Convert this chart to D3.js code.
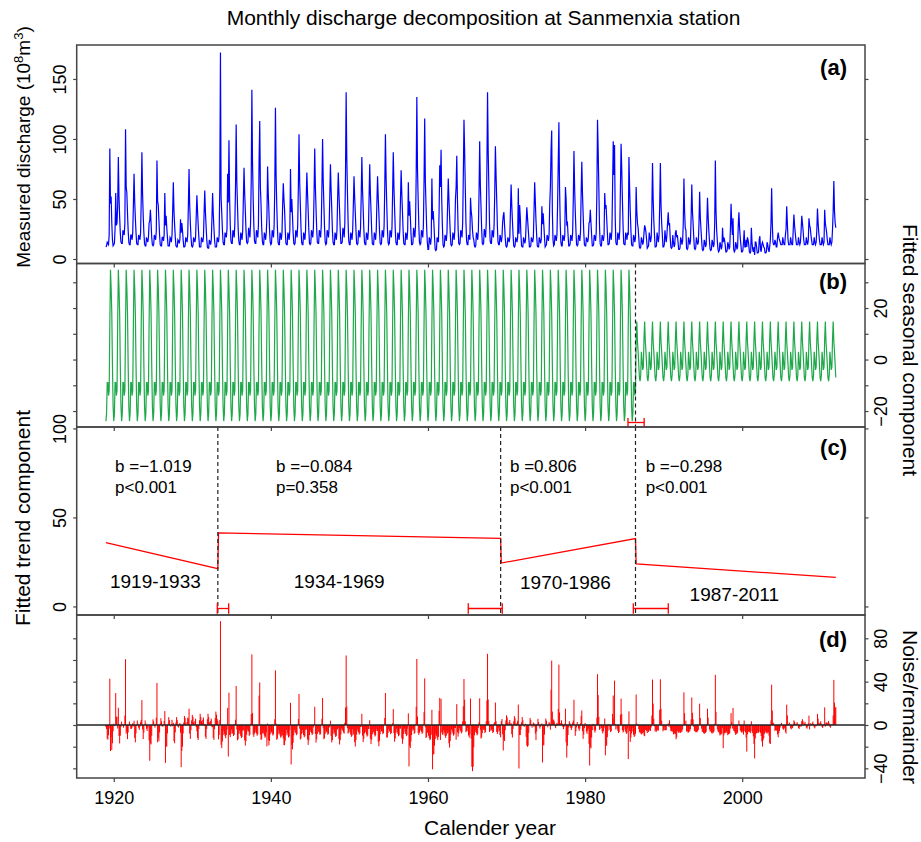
<!DOCTYPE html>
<html>
<head>
<meta charset="utf-8">
<script src="https://cdn.jsdelivr.net/npm/d3@7"></script>
<style>
  body { margin: 0; background: #fff; }
  svg { display: block; font-family: "Liberation Sans", Arial, Helvetica, sans-serif; }
</style>
</head>
<body>
<script>
// monthly measured discharge (10^8 m3), one row per year from 1919, Jan..Dec
var startYear = 1919;
var discharge = [
  [10,11,14,13,12,20,92,46,52,30,16,11],
  [12,13,25,55,28,30,45,85,52,35,22,14],
  [13,13,24,22,20,30,108,60,55,38,24,14],
  [12,12,20,20,16,22,45,71,48,34,22,13],
  [12,12,20,18,16,22,50,89,55,36,22,13],
  [11,11,18,16,14,18,30,32,41,30,18,12],
  [11,12,20,18,16,24,82,48,45,32,20,12],
  [11,11,18,18,15,20,55,28,36,26,18,11],
  [11,11,18,17,14,20,40,64,40,28,18,11],
  [10,10,16,15,13,16,33,22,30,24,16,10],
  [10,11,18,16,14,20,45,75,45,30,18,11],
  [10,11,18,16,14,18,36,53,40,28,18,10],
  [10,10,18,16,14,18,38,57,40,28,17,10],
  [9,9,16,14,12,16,34,55,38,26,16,10],
  [10,10,18,16,14,20,60,172,51,38,24,14],
  [12,12,22,20,18,25,71,47,99,50,28,15],
  [13,13,24,22,18,30,60,112,65,45,26,15],
  [12,12,22,20,16,24,50,76,55,40,24,14],
  [13,14,26,22,18,30,65,141,80,50,28,15],
  [13,13,24,22,18,28,82,115,60,45,26,15],
  [12,12,22,20,16,22,35,77,55,40,24,14],
  [12,13,24,22,18,28,60,126,70,45,26,14],
  [12,12,22,20,16,22,45,63,50,40,24,13],
  [12,12,22,20,16,24,75,39,50,36,22,13],
  [12,13,24,22,18,28,60,104,65,45,26,14],
  [12,12,22,20,16,24,50,72,55,40,24,13],
  [12,13,24,22,18,26,55,92,60,42,25,14],
  [13,13,24,22,18,28,60,100,65,45,26,14],
  [12,13,24,22,18,26,52,79,58,42,24,14],
  [12,12,22,20,16,24,50,72,55,40,24,13],
  [13,14,26,24,18,30,70,139,85,55,30,15],
  [12,12,22,20,16,24,45,69,52,38,24,13],
  [12,13,24,22,18,26,52,85,58,42,25,14],
  [12,12,22,20,16,24,50,79,55,40,24,13],
  [12,12,22,20,16,24,48,69,52,38,23,13],
  [12,13,24,22,18,28,60,104,68,46,26,14],
  [12,13,24,22,18,26,55,89,60,42,25,14],
  [12,12,22,20,16,24,50,74,55,40,24,13],
  [12,12,22,20,16,24,64,36,48,36,22,12],
  [12,13,26,22,18,28,70,135,75,50,28,14],
  [12,13,24,22,18,28,65,117,65,45,26,14],
  [8,8,18,16,12,18,67,33,40,30,18,8],
  [7,8,18,16,14,40,78,60,91,50,28,12],
  [10,11,20,18,15,22,45,67,50,36,22,12],
  [11,12,22,20,16,24,50,60,86,50,26,13],
  [12,13,24,22,18,30,70,116,90,60,30,15],
  [12,12,20,18,16,51,40,35,24,18,16,11],
  [10,11,22,20,16,24,55,98,62,44,25,13],
  [12,13,25,22,18,30,75,139,90,60,30,15],
  [13,13,24,22,18,28,55,94,70,50,28,14],
  [12,12,20,18,14,18,30,36,39,28,18,11],
  [10,11,18,16,14,18,40,62,45,32,20,11],
  [10,11,18,16,14,18,59,21,45,35,20,11],
  [10,10,18,16,13,16,30,43,35,26,18,10],
  [10,11,18,16,14,18,40,64,48,32,20,11],
  [10,10,18,16,13,16,44,29,38,28,18,10],
  [11,12,20,18,15,20,45,60,90,107,40,16],
  [11,12,20,18,15,20,45,80,114,60,30,14],
  [11,11,20,18,15,20,60,50,29,30,20,11],
  [11,12,20,18,15,22,50,90,60,40,24,12],
  [11,12,20,18,15,22,55,81,55,38,22,12],
  [11,11,18,16,14,18,30,31,41,30,20,11],
  [11,12,20,18,15,22,55,116,90,60,28,13],
  [11,11,20,18,15,20,55,42,45,34,22,12],
  [12,13,22,20,16,24,60,98,70,95,35,14],
  [12,12,22,20,16,24,60,96,75,50,28,13],
  [12,12,22,20,16,22,20,85,60,40,24,12],
  [11,11,20,18,14,18,60,40,30,26,18,10],
  [9,10,18,16,12,14,22,28,26,22,16,9],
  [10,11,22,18,14,18,40,80,50,32,20,10],
  [10,11,22,18,14,20,45,80,45,30,20,10],
  [10,12,24,18,14,20,30,39,28,30,18,10],
  [9,10,20,14,10,12,22,24,18,20,14,8],
  [8,9,18,16,12,15,30,67,40,26,24,9],
  [8,9,18,16,12,15,35,62,40,30,18,9],
  [8,9,18,15,12,14,30,56,35,25,16,8],
  [7,8,16,14,10,12,30,51,35,24,15,8],
  [7,8,16,14,10,12,30,82,40,24,15,8],
  [6,7,14,12,8,10,26,14,18,16,12,6],
  [6,7,14,12,8,10,25,46,30,20,34,8],
  [6,7,14,12,8,10,28,39,26,18,12,6],
  [6,7,14,24,10,10,16,10,18,16,12,6],
  [5,6,26,14,8,6,10,3.4,14,14,10,5],
  [5,6,16,19,8,6,12,14,12,10,9,5],
  [5,6,14,12,8,6,10,16,30,59,30,14],
  [12,12,16,14,10,10,18,22,18,16,14,12],
  [12,12,18,14,12,12,20,25,44,30,16,12],
  [12,12,18,14,12,12,25,37,28,22,16,12],
  [12,12,18,14,12,14,24,36,30,24,16,12],
  [12,12,18,14,12,16,34,28,26,20,16,12],
  [12,12,18,14,12,14,24,42,30,22,16,12],
  [12,12,18,14,12,14,41,30,26,22,16,12],
  [12,12,18,14,12,14,25,40,65,40,30,26]
];

// fitted seasonal component, Jan..Dec, before and after the 1986 break
var seasonalEarly = [-23.9,-21,-9,-9,-14,-12,14,34.9,28,18,-2,-18];
var seasonalLate = [-8.4,-6,3,0,-4,-3,8,14.8,7,3,-2,-7];
var seasonBreak = 1986.417;
var seasonCI = [1985.46, 1987.52];

// fitted trend segments
var trendStart = [1919, 1933.333, 1969.333, 1986.5];
var trendEnd = [1933.25, 1969.25, 1986.417, 2011.917];
var trendStartValue = [35.8, 41.3, 24.4, 23.9];
var trendSlope = [-1.019, -0.084, 0.806, -0.298];
var trendCI = [[1933.18, 1934.63], [1965.13, 1969.46], [1986.14, 1990.59]];
var slopeText = ["b =\u22121.019", "b =\u22120.084", "b =0.806", "b =\u22120.298"];
var pText = ["p<0.001", "p=0.358", "p<0.001", "p<0.001"];
var periodText = ["1919-1933", "1934-1969", "1970-1986", "1987-2011"];

// axis limits and ticks
var yLimA = [-3.75, 178.3];
var yLimB = [-26.2, 37.3];
var yLimC = [-4.8, 100.8];
var yLimD = [-48.9, 101.5];
var xTicks = [1920, 1940, 1960, 1980, 2000];
var ticksA = [0, 50, 100, 150];
var ticksB = [-20, -10, 0, 10, 20, 30];
var labelsB = [-20, 0, 20];
var ticksC = [0, 50, 100];
var ticksD = [-40, -20, 0, 20, 40, 60, 80];
var labelsD = [-40, 0, 40, 80];

var w = 921;
var h = 842;
var plotLeft = 76.7;
var plotRight = 865;
var panelTop = { a: 45, b: 263.5, c: 427, d: 615 };
var panelBottom = { a: 263.5, b: 427, c: 615, d: 778 };

function trendAt(t) {
  for (var k = 0; k < trendStart.length; k++) {
    if (t <= trendEnd[k] + 1e-6) {
      return trendStartValue[k] + trendSlope[k] * (t - trendStart[k]);
    }
  }
}

var points = [];
discharge.forEach(function(row, i) {
  row.forEach(function(v, m) {
    var t = startYear + i + m / 12;
    var s = t <= seasonBreak + 1e-6 ? seasonalEarly[m] : seasonalLate[m];
    var tr = trendAt(t);
    points.push({ t: t, v: v, s: s, tr: tr, e: v - s - tr });
  });
});

var tFirst = points[0].t;
var tLast = points[points.length - 1].t;
var pad = 0.04 * (tLast - tFirst);

var x = d3.scaleLinear().domain([tFirst - pad, tLast + pad]).range([plotLeft, plotRight]);
var yA = d3.scaleLinear().domain(yLimA).range([panelBottom.a, panelTop.a]);
var yB = d3.scaleLinear().domain(yLimB).range([panelBottom.b, panelTop.b]);
var yC = d3.scaleLinear().domain(yLimC).range([panelBottom.c, panelTop.c]);
var yD = d3.scaleLinear().domain(yLimD).range([panelBottom.d, panelTop.d]);

var svg = d3.select("body")
            .append("svg")
            .attr("width", w)
            .attr("height", h);

function drawFrame(p) {
  svg.append("rect")
     .attr("x", plotLeft)
     .attr("y", panelTop[p])
     .attr("width", plotRight - plotLeft)
     .attr("height", panelBottom[p] - panelTop[p])
     .attr("fill", "none")
     .attr("stroke", "#444")
     .attr("stroke-width", 1.5);
}

function drawXTicks(p, withLabels) {
  var ax = d3.axisBottom(x).tickValues(xTicks).tickSize(4).tickPadding(9)
             .tickFormat(withLabels ? d3.format("d") : "");
  var g = svg.append("g")
     .attr("transform", "translate(0," + panelBottom[p] + ")")
     .call(ax);
  g.select(".domain").remove();
  g.selectAll("line").attr("stroke", "#444").attr("stroke-width", 1.2);
  g.selectAll("text").style("font-size", "18px").attr("fill", "#000")
   .style("font-family", "Liberation Sans, Arial, sans-serif");
}

function drawYTicks(scale, side, ticks, labels, shift) {
  var ax = (side === "left" ? d3.axisLeft(scale) : d3.axisRight(scale))
      .tickValues(ticks).tickSize(3.5)
      .tickFormat(function(d) { return labels.indexOf(d) >= 0 ? d3.format("d")(d).replace("-", "\u2212") : ""; });
  var g = svg.append("g")
     .attr("transform", "translate(" + (side === "left" ? plotLeft : plotRight) + ",0)")
     .call(ax);
  g.select(".domain").remove();
  g.selectAll("line").attr("stroke", "#444").attr("stroke-width", 1.2);
  g.selectAll("text")
   .attr("x", null)
   .attr("dy", "0.35em")
   .attr("text-anchor", "middle")
   .attr("transform", "translate(" + shift + ",0) rotate(-90)")
   .attr("fill", "#000")
   .style("font-size", "18px")
   .style("font-family", "Liberation Sans, Arial, sans-serif");
}

function drawDashed(t, p) {
  svg.append("line")
     .attr("x1", x(t)).attr("x2", x(t))
     .attr("y1", panelTop[p]).attr("y2", panelBottom[p])
     .attr("stroke", "#222")
     .attr("stroke-width", 1.2)
     .attr("stroke-dasharray", "4,3");
}

function drawCI(range, yPos, cap) {
  var g = svg.append("g").attr("stroke", "#ff0000").attr("stroke-width", 1.3);
  g.append("line").attr("x1", x(range[0])).attr("x2", x(range[1])).attr("y1", yPos).attr("y2", yPos);
  range.forEach(function(t) {
    g.append("line").attr("x1", x(t)).attr("x2", x(t)).attr("y1", yPos - cap).attr("y2", yPos + cap);
  });
}

function panelLabel(txt, cy) {
  svg.append("text")
     .attr("x", 847).attr("y", cy)
     .attr("text-anchor", "end")
     .attr("dy", "0.35em")
     .style("font-size", "22px")
     .style("font-weight", "bold")
     .text(txt);
}

// (a) measured discharge
svg.append("path")
   .datum(points)
   .attr("fill", "none")
   .attr("stroke", "#0000ff")
   .attr("stroke-width", 1.2)
   .attr("d", d3.line().x(function(d) { return x(d.t); }).y(function(d) { return yA(d.v); }));

// (b) seasonal
svg.append("path")
   .datum(points)
   .attr("fill", "none")
   .attr("stroke", "#1ea84a")
   .attr("stroke-width", 1.2)
   .attr("d", d3.line().x(function(d) { return x(d.t); }).y(function(d) { return yB(d.s); }));
drawDashed(seasonBreak, "b");
drawCI(seasonCI, panelBottom.b - 4.5, 4.5);

// (c) trend
var trendPts = [];
trendStart.forEach(function(t0, k) {
  trendPts.push({ t: t0, v: trendStartValue[k] });
  trendPts.push({ t: trendEnd[k], v: trendStartValue[k] + trendSlope[k] * (trendEnd[k] - t0) });
});
svg.append("path")
   .datum(trendPts)
   .attr("fill", "none")
   .attr("stroke", "#ff0000")
   .attr("stroke-width", 1.3)
   .attr("d", d3.line().x(function(d) { return x(d.t); }).y(function(d) { return yC(d.v); }));
trendEnd.slice(0, 3).forEach(function(t) { drawDashed(t, "c"); });
trendCI.forEach(function(r) { drawCI(r, panelBottom.c - 6.5, 5.3); });

var statX = [1920.17, 1940.65, 1970.44, 1987.71];
var periodX = [1925.3, 1948.7, 1977.5, 1999.0];
var periodY = [13.9, 13.9, 13.4, 6.9];
slopeText.forEach(function(s, k) {
  svg.append("text").attr("x", x(statX[k])).attr("y", yC(78.9)).attr("dy", "0.35em")
     .style("font-size", "17px").text(s);
  svg.append("text").attr("x", x(statX[k])).attr("y", yC(67)).attr("dy", "0.35em")
     .style("font-size", "17px").text(pText[k]);
  svg.append("text").attr("x", x(periodX[k])).attr("y", yC(periodY[k])).attr("dy", "0.35em")
     .attr("text-anchor", "middle")
     .style("font-size", "19px").text(periodText[k]);
});

// (d) remainder
svg.append("g")
   .selectAll(".noise")
   .data(points)
   .enter()
   .append("line")
   .attr("class", "noise")
   .attr("x1", function(d) { return x(d.t); })
   .attr("x2", function(d) { return x(d.t); })
   .attr("y1", yD(0))
   .attr("y2", function(d) { return yD(d.e); })
   .attr("stroke", "#ff0000")
   .attr("stroke-width", 1);
svg.append("line")
   .attr("x1", plotLeft).attr("x2", plotRight)
   .attr("y1", yD(0)).attr("y2", yD(0))
   .attr("stroke", "#222").attr("stroke-width", 1.3);

["a", "b", "c", "d"].forEach(drawFrame);
drawXTicks("a", false);
drawXTicks("b", false);
drawXTicks("c", false);
drawXTicks("d", true);

drawYTicks(yA, "left", ticksA, ticksA, -16.7);
drawYTicks(yA, "right", ticksA, [], 15.5);
drawYTicks(yB, "left", ticksB, [], -16.7);
drawYTicks(yB, "right", ticksB, labelsB, 15.5);
drawYTicks(yC, "left", ticksC, ticksC, -16.7);
drawYTicks(yC, "right", ticksC, [], 15.5);
drawYTicks(yD, "left", ticksD, [], -16.7);
drawYTicks(yD, "right", ticksD, labelsD, 15.5);

panelLabel("(a)", 67);
panelLabel("(b)", 281);
panelLabel("(c)", 447);
panelLabel("(d)", 639);

// titles
svg.append("text")
   .attr("x", 483.5).attr("y", 18).attr("dy", "0.35em")
   .attr("text-anchor", "middle")
   .style("font-size", "21px")
   .text("Monthly discharge decomposition at Sanmenxia station");

var yTitle = svg.append("text")
   .attr("transform", "translate(23,147) rotate(-90)")
   .attr("text-anchor", "middle")
   .attr("dy", "0.35em")
   .style("font-size", "19px");
yTitle.append("tspan").text("Measured discharge (10");
yTitle.append("tspan").attr("dy", -7).style("font-size", "13px").text("8");
yTitle.append("tspan").attr("dy", 7).text("m");
yTitle.append("tspan").attr("dy", -7).style("font-size", "13px").text("3");
yTitle.append("tspan").attr("dy", 7).text(")");

svg.append("text")
   .attr("transform", "translate(23,518) rotate(-90)")
   .attr("text-anchor", "middle").attr("dy", "0.35em")
   .style("font-size", "21px")
   .text("Fitted trend component");

svg.append("text")
   .attr("transform", "translate(910,350) rotate(90)")
   .attr("text-anchor", "middle").attr("dy", "0.35em")
   .style("font-size", "21px")
   .text("Fitted seasonal component");

svg.append("text")
   .attr("transform", "translate(910,707) rotate(90)")
   .attr("text-anchor", "middle").attr("dy", "0.35em")
   .style("font-size", "21px")
   .text("Noise/remainder");

svg.append("text")
   .attr("x", 490).attr("y", 828).attr("dy", "0.35em")
   .attr("text-anchor", "middle")
   .style("font-size", "21px")
   .text("Calender year");
</script>
</body>
</html>
